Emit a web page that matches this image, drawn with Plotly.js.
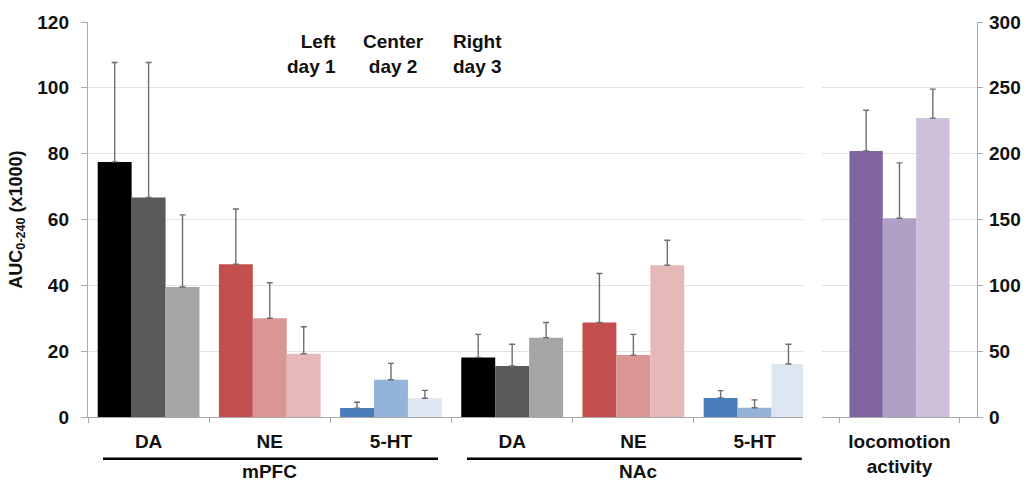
<!DOCTYPE html>
<html>
<head>
<meta charset="utf-8">
<script src="https://cdn.plot.ly/plotly-3.0.1.min.js"></script>
<style>html,body{margin:0;padding:0;background:#fff;}#chart{width:1029px;height:484px;}</style>
</head>
<body>
<div id="chart"></div>
<script>
// ---- data ----
const regions  = ['mPFC', 'mPFC', 'mPFC', 'NAc', 'NAc', 'NAc'];
const analytes = ['DA', 'NE', '5-HT', 'DA', 'NE', '5-HT'];
const dayNames = ['Left day 1', 'Center day 2', 'Right day 3'];

const day1    = [77.5, 46.4, 2.7, 18.1, 28.7, 5.8];
const day1Err = [30.2, 16.8, 1.8, 7.0, 14.9, 2.2];
const day2    = [66.7, 30.0, 11.3, 15.5, 18.8, 2.8];
const day2Err = [41.0, 10.8, 5.0, 6.6, 6.3, 2.4];
const day3    = [39.5, 19.2, 5.7, 24.1, 46.1, 16.1];
const day3Err = [21.9, 8.2, 2.4, 4.6, 7.6, 6.0];

const locoCategory = ['locomotion<br>activity'];
const loco    = [202, 151, 227];
const locoErr = [31, 42, 22];

// ---- styles ----
const analyteColors = {
  'DA':   ['#000000', '#595959', '#a6a6a6'],
  'NE':   ['#c24f4d', '#da9695', '#e7b8b8'],
  '5-HT': ['#4a7ebb', '#93b3d9', '#dde6f1']
};
const locoColors = ['#8064a2', '#b1a0c6', '#ccc0da'];

const FONT = 'Liberation Sans, Arial, sans-serif';
const cats = regions.map((r, i) => r + ' ' + analytes[i]);
const errStyle = {color: '#6e6e6e', thickness: 1.4, width: 3};

const series = [[day1, day1Err], [day2, day2Err], [day3, day3Err]];
const traces = series.map((s, d) => ({
  type: 'bar', name: dayNames[d], x: cats, y: s[0],
  xaxis: 'x', yaxis: 'y', showlegend: false,
  marker: {color: analytes.map(a => analyteColors[a][d]), line: {width: 0}},
  error_y: Object.assign({type: 'data', symmetric: false, array: s[1], arrayminus: []}, errStyle),
  hoverinfo: 'x+y'
}));
loco.forEach((v, d) => traces.push({
  type: 'bar', name: dayNames[d], x: ['loco'], y: [v],
  xaxis: 'x2', yaxis: 'y2', showlegend: false,
  marker: {color: locoColors[d], line: {width: 0}},
  error_y: Object.assign({type: 'data', symmetric: false, array: [locoErr[d]], arrayminus: []}, errStyle)
}));

const tickFont = {family: FONT, size: 19, color: '#111', weight: 700};
const axisLine = '#a8a8a8';
const gridCol = '#e2e2e2';

const layout = {
  width: 1029, height: 484,
  margin: {l: 88, r: 52, t: 22, b: 67},
  paper_bgcolor: '#fff', plot_bgcolor: 'rgba(0,0,0,0)',
  font: {family: FONT, color: '#111'},
  barmode: 'group', bargap: 0.16, bargroupgap: 0,
  xaxis: {
    domain: [0, 0.8043], type: 'category', categoryorder: 'array', categoryarray: cats,
    tickmode: 'array', tickvals: cats, ticktext: analytes,
    range: [-0.5, 5.4], tickson: 'boundaries', ticks: 'outside', ticklen: 5,
    tickcolor: axisLine, showline: true, linecolor: axisLine, linewidth: 1.2,
    showgrid: false, zeroline: false, tickfont: tickFont, anchor: 'y',
    ticklabelstandoff: 7
  },
  yaxis: {
    range: [0, 120], dtick: 20, ticks: 'outside', ticklen: 6, tickcolor: axisLine,
    showline: true, linecolor: axisLine, linewidth: 1.2,
    showgrid: true, gridcolor: gridCol, gridwidth: 1, zeroline: false,
    tickfont: tickFont, anchor: 'x', ticklabelstandoff: 8,
    title: {text: 'AUC<sub>0-240</sub> (x1000)', font: {family: FONT, size: 18, color: '#111', weight: 700}, standoff: 10}
  },
  xaxis2: {
    domain: [0.8256, 1], type: 'category', range: [-0.651, 0.651],
    tickmode: 'array', tickvals: ['loco'], ticktext: locoCategory,
    tickson: 'boundaries', ticks: 'outside', ticklen: 5, tickcolor: axisLine,
    showline: true, linecolor: axisLine, linewidth: 1.2,
    showgrid: false, zeroline: false, tickfont: tickFont, anchor: 'y2',
    ticklabelstandoff: 7
  },
  yaxis2: {
    range: [0, 300], dtick: 50, side: 'right', anchor: 'x2',
    ticks: 'outside', ticklen: 5, tickcolor: axisLine,
    showline: true, linecolor: axisLine, linewidth: 1.2,
    showgrid: true, gridcolor: gridCol, gridwidth: 1, zeroline: false,
    tickfont: tickFont, ticklabelstandoff: 2
  },
  shapes: [
    {type: 'line', xref: 'x', yref: 'paper', x0: -0.376, x1: 2.388, y0: -0.106, y1: -0.106, line: {color: '#000', width: 2.5}},
    {type: 'line', xref: 'x', yref: 'paper', x0: 2.627, x1: 5.39, y0: -0.106, y1: -0.106, line: {color: '#000', width: 2.5}}
  ],
  annotations: [
    {xref: 'x', yref: 'paper', x: 1.0, y: -0.139, text: regions[0], showarrow: false, font: tickFont, yanchor: 'middle'},
    {xref: 'x', yref: 'paper', x: 4.04, y: -0.139, text: regions[3], showarrow: false, font: tickFont, yanchor: 'middle'},
    {xref: 'x', yref: 'paper', x: 1.56, y: 0.92, text: 'Left<br>day 1', showarrow: false, xanchor: 'right', align: 'right', yanchor: 'middle', font: {family: FONT, size: 19, color: '#111', weight: 700}},
    {xref: 'x', yref: 'paper', x: 2.02, y: 0.92, text: 'Center<br>day 2', showarrow: false, xanchor: 'center', align: 'center', yanchor: 'middle', font: {family: FONT, size: 19, color: '#111', weight: 700}},
    {xref: 'x', yref: 'paper', x: 2.71, y: 0.92, text: 'Right<br>day 3', showarrow: false, xanchor: 'center', align: 'center', yanchor: 'middle', font: {family: FONT, size: 19, color: '#111', weight: 700}}
  ]
};

Plotly.newPlot('chart', traces, layout, {displayModeBar: false, staticPlot: true});
</script>
</body>
</html>
